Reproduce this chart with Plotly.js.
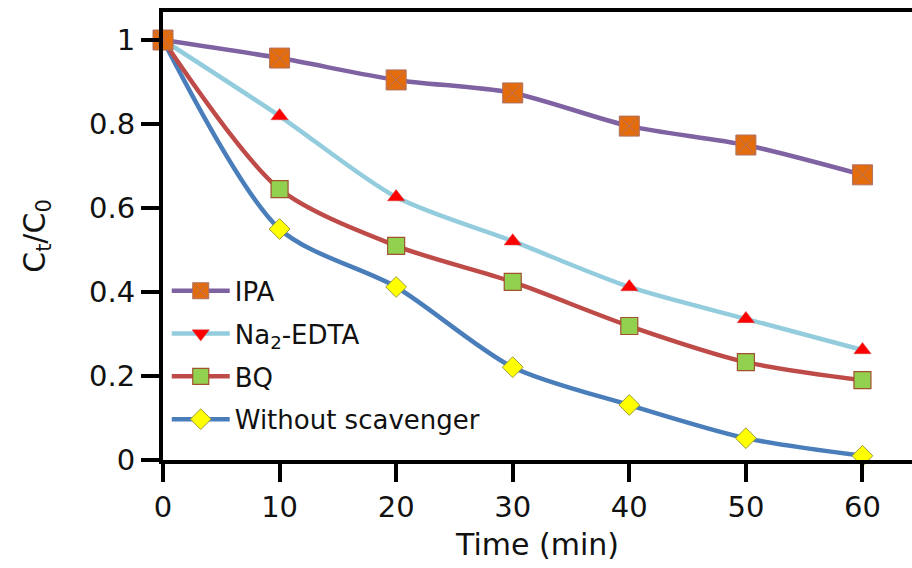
<!DOCTYPE html>
<html>
<head>
<meta charset="utf-8">
<script src="https://cdn.plot.ly/plotly-3.0.1.min.js"></script>
<style>html,body{margin:0;padding:0;background:#fff;}#chart{width:912px;height:568px;}</style>
</head>
<body>
<div id="chart"></div>
<script>
var time = [0, 10, 20, 30, 40, 50, 60];
var ipa = [1.0, 0.957, 0.905, 0.874, 0.795, 0.750, 0.679];
var na2edta = [1.0, 0.819, 0.626, 0.521, 0.412, 0.336, 0.262];
var bq = [1.0, 0.645, 0.510, 0.424, 0.319, 0.233, 0.190];
var without = [1.0, 0.550, 0.412, 0.221, 0.131, 0.052, 0.010];
var names = ['IPA', 'Na<sub>2</sub>-EDTA', 'BQ', 'Without scavenger'];
var xTicks = [0, 10, 20, 30, 40, 50, 60];
var yTicks = [0, 0.2, 0.4, 0.6, 0.8, 1];
var yTickText = ['0', '0.2', '0.4', '0.6', '0.8', '1'];

var font = 'DejaVu Sans, Arial, sans-serif';
var lw = 4.5;

var traces = [
  {x: time, y: without, name: names[3], mode: 'lines+markers', legendrank: 4, legendgroup: 'd',
   line: {color: '#4A7EBB', width: lw, shape: 'spline', smoothing: 0.8},
   marker: {symbol: 'diamond', size: 16, color: '#FFFF00', line: {color: '#9A9A40', width: 1}}, cliponaxis: false},
  {x: time, y: bq, name: names[2], mode: 'lines+markers', legendrank: 3, legendgroup: 'c',
   line: {color: '#BE4B48', width: lw, shape: 'spline', smoothing: 0.8},
   marker: {symbol: 'square', size: 17, color: '#92D050', line: {color: '#A0522D', width: 1.2}}, cliponaxis: false},
  {x: time, y: na2edta, name: names[1], mode: 'lines+markers', showlegend: false, legendgroup: 'b',
   line: {color: '#93CDDD', width: lw, shape: 'spline', smoothing: 0.8},
   marker: {symbol: 'triangle-up', size: 15, color: '#FF0000', line: {color: '#D04040', width: 0.5}}, cliponaxis: false},
  {x: [null], y: [null], name: names[1], mode: 'lines+markers', legendrank: 2, legendgroup: 'b',
   line: {color: '#93CDDD', width: lw},
   marker: {symbol: 'triangle-down', size: 15, color: '#FF0000', line: {color: '#D04040', width: 0.5}}},
  {x: time, y: ipa, name: names[0], mode: 'lines+markers', legendrank: 1, legendgroup: 'a',
   line: {color: '#7F62A1', width: lw, shape: 'spline', smoothing: 0.8},
   marker: {symbol: 'square-x', size: 20, color: '#E46C0A', line: {color: '#B07060', width: 1}}, cliponaxis: false}
];

var layout = {
  width: 912, height: 568,
  margin: {l: 163, r: 0, t: 12, b: 108},
  paper_bgcolor: '#fff', plot_bgcolor: '#fff',
  font: {family: font, color: '#111', size: 29},
  showlegend: true,
  legend: {x: 0.005, y: 0.43, xanchor: 'left', yanchor: 'top', bgcolor: 'rgba(0,0,0,0)',
           font: {family: font, size: 26, color: '#111'}, itemwidth: 58, tracegroupgap: 6,
           traceorder: 'grouped'},
  xaxis: {range: [0, 64.25], tickvals: xTicks, ticks: 'outside', ticklen: 18, tickwidth: 4, tickcolor: '#000',
          showline: true, linewidth: 4, linecolor: '#000', mirror: true, showgrid: false, zeroline: false,
          tickfont: {family: font, size: 29, color: '#111'},
          title: {text: 'Time (min)', font: {family: font, size: 30, color: '#111'}, standoff: 12}},
  yaxis: {range: [0, 1.0667], tickvals: yTicks, ticktext: yTickText, ticks: 'outside', ticklen: 18, tickwidth: 4, tickcolor: '#000',
          showline: true, linewidth: 4, linecolor: '#000', mirror: false, showgrid: false, zeroline: false,
          tickfont: {family: font, size: 29, color: '#111'},
          title: {text: 'C<sub>t</sub>/C<sub>0</sub>', font: {family: font, size: 30, color: '#111'}, standoff: 36}}
};

Plotly.newPlot('chart', traces, layout, {displayModeBar: false, staticPlot: true});
</script>
</body>
</html>
